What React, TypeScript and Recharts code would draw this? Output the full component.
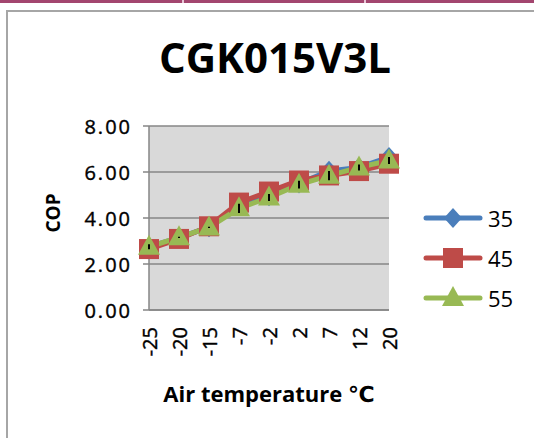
import React from 'react';
import { LineChart, Line, XAxis, YAxis, CartesianGrid, ErrorBar } from 'recharts';

const categories = ['-25', '-20', '-15', '-7', '-2', '2', '7', '12', '20'];
const cop35 = [2.75, 3.15, 3.6, 4.55, 4.95, 5.5, 6.05, 6.2, 6.65];
const cop45 = [2.65, 3.09, 3.64, 4.67, 5.15, 5.63, 5.85, 6.04, 6.36];
const cop55 = [2.75, 3.16, 3.59, 4.42, 4.89, 5.45, 5.84, 6.2, 6.5];
const err55 = [0.11, 0.03, 0.03, 0.2, 0.15, 0.17, 0.2, 0.13, 0.15];
const yTicks = [0, 2, 4, 6, 8];
const seriesNames = ['35', '45', '55'];
const seriesKeys = ['s35', 's45', 's55'];
const seriesColors = ['#4a7ebb', '#be4b48', '#98b954'];
const seriesShapes = ['diamond', 'square', 'triangle'];

const data = categories.map((c, i) => ({
  cat: c,
  s35: cop35[i],
  s45: cop45[i],
  s55: cop55[i],
  err55: err55[i],
}));

const FONT = '"Open Sans", "DejaVu Sans", sans-serif';

function Marker({ shape, cx, cy, color }: { shape: string; cx: number; cy: number; color: string }) {
  if (shape === 'square') {
    return <rect x={cx - 10} y={cy - 10} width={20} height={20} fill={color} />;
  }
  if (shape === 'diamond') {
    return <polygon points={`${cx},${cy - 10} ${cx + 9},${cy} ${cx},${cy + 10} ${cx - 9},${cy}`} fill={color} />;
  }
  return <polygon points={`${cx},${cy - 12} ${cx + 11},${cy + 8} ${cx - 11},${cy + 8}`} fill={color} />;
}

const makeDot = (shape: string, color: string) => (p: any) => {
  if (p.cx == null || p.cy == null) return <g key={p.index} />;
  return (
    <g key={`${shape}-${p.index}`}>
      <Marker shape={shape} cx={p.cx} cy={p.cy} color={color} />
    </g>
  );
};

const XTick = (p: any) => {
  const { x, payload } = p;
  return (
    <text
      transform={`translate(${x},${327}) rotate(-90)`}
      textAnchor="end"
      dominantBaseline="central"
      fontFamily={FONT}
      fontSize={20}
      fill="#000"
      stroke="#000"
      strokeWidth={0.4}
    >
      {payload.value}
    </text>
  );
};

const YTick = (p: any) => {
  const { y, payload } = p;
  return (
    <text
      x={132}
      y={y}
      textAnchor="end"
      dominantBaseline="central"
      fontFamily={FONT}
      fontSize={20}
      letterSpacing={2}
      fill="#000"
      stroke="#000"
      strokeWidth={0.4}
    >
      {Number(payload.value).toFixed(2)}
    </text>
  );
};

export default function App() {
  return (
    <div
      style={{
        position: 'absolute',
        left: 0,
        top: 0,
        width: 534,
        height: 438,
        background: '#fff',
        overflow: 'hidden',
      }}
    >
      {/* spreadsheet cell border at top */}
      <div style={{ position: 'absolute', left: 0, top: 0, width: 534, height: 3, background: '#a3466f' }} />
      <div style={{ position: 'absolute', left: 182, top: 0, width: 2, height: 3, background: '#e8c6d6' }} />
      <div style={{ position: 'absolute', left: 364, top: 0, width: 2, height: 3, background: '#e8c6d6' }} />
      {/* chart frame */}
      <div
        style={{
          position: 'absolute',
          left: 6,
          top: 10,
          width: 600,
          height: 500,
          borderLeft: '2px solid #a6a6a6',
          borderTop: '2px solid #a6a6a6',
        }}
      />
      <div style={{ position: 'absolute', left: 0, top: 0 }}>
        <LineChart
          width={534}
          height={438}
          data={data}
          margin={{ top: 126, right: 145, bottom: 68, left: 59 }}
        >
          <CartesianGrid vertical={false} stroke="#868686" strokeWidth={1.5} fill="#d9d9d9" />
          <XAxis
            dataKey="cat"
            height={60}
            axisLine={{ stroke: '#868686', strokeWidth: 1.5 }}
            tickLine={false}
            tick={<XTick />}
            interval={0}
          />
          <YAxis
            width={90}
            domain={[0, 8]}
            ticks={yTicks}
            axisLine={{ stroke: '#868686', strokeWidth: 1.5 }}
            tickLine={{ stroke: '#868686', strokeWidth: 1.5 }}
            tickSize={6}
            tick={<YTick />}
            allowDataOverflow
          />
          {seriesKeys.map((k, i) => (
            <Line
              key={k}
              dataKey={k}
              type="linear"
              stroke={seriesColors[i]}
              strokeWidth={5}
              dot={makeDot(seriesShapes[i], seriesColors[i])}
              activeDot={false}
              isAnimationActive={false}
            >
              {k === 's55' ? (
                <ErrorBar
                  dataKey="err55"
                  direction="y"
                  width={0}
                  stroke="#000"
                  strokeWidth={2}
                  isAnimationActive={false}
                  {...({ zIndex: 1500 } as any)}
                />
              ) : null}
            </Line>
          ))}
        </LineChart>
      </div>
      <svg
        width={534}
        height={438}
        style={{ position: 'absolute', left: 0, top: 0, pointerEvents: 'none' }}
      >
        <text x={275} y={73} textAnchor="middle" fontFamily={FONT} fontWeight="bold" fontSize={42} fill="#000">
          CGK015V3L
        </text>
        <text
          transform="translate(53,213) rotate(-90)"
          textAnchor="middle"
          dominantBaseline="central"
          fontFamily={FONT}
          fontWeight="bold"
          fontSize={19}
          fill="#000"
        >
          COP
        </text>
        <text x={269} y={402} textAnchor="middle" fontFamily={FONT} fontWeight="bold" fontSize={22} fill="#000">
          Air temperature ℃
        </text>
        {seriesNames.map((n, i) => {
          const y = 218 + i * 40;
          return (
            <g key={n}>
              <line x1={426} x2={480} y1={y} y2={y} stroke={seriesColors[i]} strokeWidth={5} strokeLinecap="round" />
              <Marker shape={seriesShapes[i]} cx={453} cy={y} color={seriesColors[i]} />
              <text x={488} y={y} dominantBaseline="central" fontFamily={FONT} fontSize={22} fill="#000">
                {n}
              </text>
            </g>
          );
        })}
      </svg>
    </div>
  );
}
